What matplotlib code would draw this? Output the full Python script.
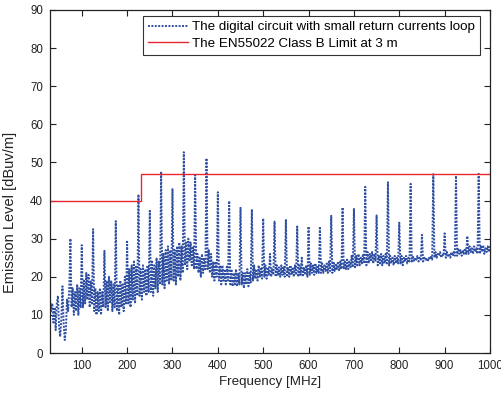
import numpy as np
import matplotlib
matplotlib.use("Agg")
import matplotlib.pyplot as plt

plt.rcParams['font.family'] = ['Liberation Sans', 'DejaVu Sans']

# Frequency sampling grid of the measured trace (MHz)
freq_start, freq_stop, freq_step = 30, 1000, 2.5
# Emission levels (dBuV/m).
# First row: 30-72.5 MHz; then one row per 25 MHz block (harmonic peak first).
emission = [
    14, 11, 13, 8, 12, 6, 13, 15, 7, 4.3, 9, 17.5, 8, 3.4, 6, 14, 11, 17,   # 30-72.5
    30.0, 12, 17, 10, 16, 11, 18, 10, 17, 12,        # 75
    28.3, 12, 19, 13, 21, 14, 20.5, 12, 19, 13,      # 100
    32.5, 11, 17, 10, 16, 11, 17, 10, 16, 12,        # 125
    26.8, 12, 19, 11, 20, 13, 19, 11, 18, 12,        # 150
    34.6, 11, 18, 10, 19, 12, 18, 11, 20, 13,        # 175
    29.2, 13, 22, 12, 23, 14, 24, 13, 23, 15,        # 200
    41.6, 15, 22, 14, 23, 16, 22, 15, 23, 16,        # 225
    37.3, 16, 24, 15, 23, 17, 25, 16, 24, 18,        # 250
    47.6, 18, 26, 17, 27, 19, 28, 18, 27, 19,        # 275
    43.0, 19, 27, 18, 28, 20, 29, 19, 28, 21,        # 300
    52.7, 23, 29, 22, 30, 24, 29, 23, 28, 22,        # 325
    47.1, 22, 26, 21, 25, 20, 26, 21, 25, 22,        # 350
    51.1, 22, 27, 21, 26, 20, 24, 19, 24, 20,        # 375
    42.2, 19, 23, 18, 23, 19, 22, 18, 23, 19,        # 400
    39.9, 18, 22, 17.5, 21, 18, 22, 17.5, 21, 18,    # 425
    38.1, 18, 21, 17, 21, 18, 22, 17.5, 21, 18.5,    # 450
    37.7, 19, 23, 19.5, 22, 19, 23, 20, 22.5, 19.5,  # 475
    35.3, 20, 23, 19.5, 22.5, 20.5, 26, 20, 22, 20.5,  # 500
    34.5, 20, 23, 20.5, 22.5, 20, 23, 20.5, 22.5, 20,  # 525
    34.9, 20, 22.5, 20, 23, 20.5, 22.5, 20, 23, 20.5,  # 550
    33.2, 20, 23, 20.5, 25, 20, 22.5, 20.5, 23, 20,    # 575
    33.2, 20.5, 23.5, 21, 23, 20.5, 23.5, 21, 23, 21,  # 600
    33.2, 21, 23.5, 21, 23, 21.5, 23.5, 21, 24, 21.5,  # 625
    36.0, 21, 24, 21.5, 23.5, 22, 24, 21.5, 24, 22,    # 650
    38.2, 22, 24, 22, 24.5, 22, 24, 22.5, 25.5, 22.5,  # 675
    37.8, 22.5, 25.5, 23, 26, 23, 25, 23.5, 26, 23.5,  # 700
    43.6, 23, 26.5, 23.5, 26, 24, 26.5, 23.5, 26, 24,  # 725
    36.1, 23, 25.5, 23.5, 26, 23, 25.5, 23.5, 26, 23.5,  # 750
    44.8, 23, 25.5, 23.5, 25, 23, 25.5, 23.5, 25, 23.5,  # 775
    34.2, 23.5, 25.5, 23, 25, 24, 25.5, 23.5, 25, 24,  # 800
    44.4, 24, 25.5, 24, 25, 24.5, 25.5, 24, 25, 24.5,  # 825
    31.0, 24, 25, 24.5, 25, 24, 25, 24.5, 25.5, 24.5,  # 850
    46.9, 25, 26.5, 25, 26, 25.5, 26.5, 25, 26, 25.5,  # 875
    31.4, 25, 26.5, 25.5, 26, 25, 26.5, 25.5, 26.5, 25.5,  # 900
    46.5, 25.5, 27.5, 26, 27, 25.5, 27, 26, 27.5, 26,  # 925
    30.7, 26, 28, 26.5, 27.5, 26, 28, 26.5, 27.5, 26,  # 950
    47.0, 26, 28, 26.5, 28.3, 26, 27.5, 26.5, 28, 26.5,  # 975
    28.0,                                             # 1000
]
freqs = np.arange(freq_start, freq_stop + freq_step / 2, freq_step)

# EN55022 Class B limit (3 m)
limit_freqs = [30, 230, 230, 1000]
limit_levels = [40, 40, 47, 47]

series_labels = ["The digital circuit with small return currents loop",
                 "The EN55022 Class B Limit at 3 m"]
x_ticks = [100, 200, 300, 400, 500, 600, 700, 800, 900, 1000]
y_ticks = [0, 10, 20, 30, 40, 50, 60, 70, 80, 90]

fig = plt.figure(figsize=(5.02, 3.95), dpi=100)
ax = fig.add_axes([0.0996, 0.1063, 0.8765, 0.8684])

ax.plot(freqs, emission, linestyle=(0, (1, 0.75)), color='#2f4fa3',
        linewidth=1.4, label=series_labels[0])
ax.plot(limit_freqs, limit_levels, linestyle='-', color='#e8282e',
        linewidth=1.0, label=series_labels[1])

ax.set_xlim(30, 1000)
ax.set_ylim(0, 90)
ax.set_xticks(x_ticks)
ax.set_yticks(y_ticks)
ax.tick_params(direction='in', top=True, right=True, length=4, width=0.8,
               labelsize=8.3, colors='#222222', pad=5)
for s in ax.spines.values():
    s.set_linewidth(0.9)
    s.set_color('#222222')

ax.set_xlabel("Frequency [MHz]", fontsize=9.6, color='#222222', labelpad=3)
ax.set_ylabel("Emission Level [dBuv/m]", fontsize=10.5, color='#222222',
              labelpad=6)
ax.yaxis.set_label_coords(-0.075, 0.41)

leg = ax.legend(loc='upper right', bbox_to_anchor=(0.978, 0.983), fontsize=9.6,
                frameon=True, fancybox=False, edgecolor='black',
                handlelength=3.0, borderpad=0.4, labelspacing=0.3,
                handletextpad=0.3, borderaxespad=0)
leg.get_frame().set_linewidth(0.8)

fig.savefig("out.png", dpi=100)
